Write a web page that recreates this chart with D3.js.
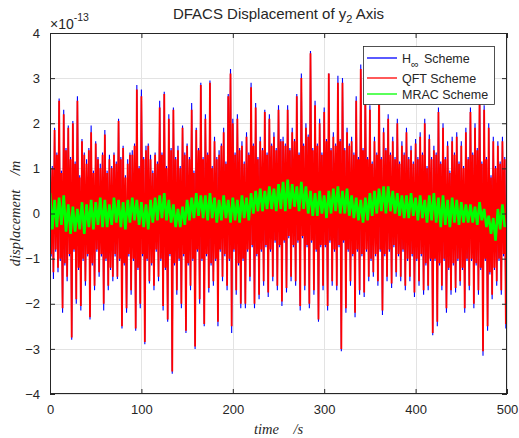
<!DOCTYPE html>
<html>
<head>
<meta charset="utf-8">
<script src="https://cdn.jsdelivr.net/npm/d3@7"></script>
<style>
  body { margin: 0; background: #fff; }
  text { font-family: "Liberation Sans", Arial, sans-serif; fill: #262626; }
</style>
</head>
<body>
<script>
// displacement samples (x 1e-13 m), one every 1.25 s, alternating upper / lower excursions
var hinfScheme = [
  1.3, -0.95, 1.05, -1.45, 1.9, -0.85, 1.35, -1.3,     2.55, -1.05, 0.95, -2.2, 2.3, -1.15, 1.45, -1.5,
  1.95, -0.95, 1.25, -2.8, 2.05, -0.85, 1.15, -2.0,    2.6, -1.25, 0.85, -2.15, 1.65, -1.05, 1.35, -1.6,
  1.2, -0.95, 1.45, -2.35, 1.95, -1.15, 0.95, -1.7,    1.6, -0.85, 1.25, -1.4, 1.1, -0.95, 1.35, -2.15,
  1.85, -1.05, 0.95, -1.7, 1.3, -1.25, 1.05, -1.5,     1.35, -0.95, 1.15, -1.45, 2.1, -1.05, 1.25, -2.55,
  1.5, -1.15, 0.85, -2.2, 1.2, -0.95, 1.35, -1.8,      1.4, -1.05, 1.55, -2.6, 2.85, -1.25, 1.05, -2.1,
  2.75, -0.95, 1.25, -2.9, 1.5, -1.05, 1.55, -1.55,    1.3, -1.15, 0.95, -1.7, 1.35, -0.85, 1.15, -1.5,
  2.5, -1.05, 1.35, -2.15, 2.7, -1.25, 1.05, -2.4,     2.2, -0.95, 1.45, -3.55, 2.35, -1.15, 1.25, -1.8,
  1.5, -1.05, 1.05, -2.1, 1.95, -0.95, 1.35, -2.65,    1.55, -1.15, 1.25, -1.7, 2.45, -1.05, 0.95, -3.0,
  1.9, -0.85, 1.45, -2.0, 2.9, -1.05, 1.25, -2.5,      2.2, -0.95, 1.35, -1.75, 2.95, -1.15, 1.05, -1.6,
  1.7, -1.05, 1.25, -2.5, 1.4, -0.85, 1.55, -1.5,      1.9, -0.95, 1.15, -1.7, 2.65, -1.05, 3.2, -2.65,
  2.1, -0.85, 1.35, -1.8, 2.2, -1.15, 1.45, -2.1,      1.6, -1.05, 1.15, -2.1, 1.8, -0.85, 1.35, -1.5,
  2.9, -0.75, 1.55, -2.1, 2.45, -0.95, 1.25, -1.9,     1.7, -0.85, 1.45, -1.6, 2.3, -0.75, 1.35, -1.85,
  2.2, -0.85, 1.55, -1.5, 1.8, -0.65, 1.45, -1.7,      2.4, -0.75, 1.65, -2.05, 1.7, -0.65, 1.55, -1.75,
  2.4, -0.55, 1.45, -1.5, 1.9, -0.75, 1.65, -1.6,      2.65, -0.65, 1.35, -2.15, 3.1, -0.55, 1.55, -1.7,
  2.0, -0.75, 1.75, -2.1, 3.6, -0.65, 1.45, -1.8,      2.5, -0.85, 1.55, -2.4, 2.1, -0.75, 1.35, -1.7,
  2.35, -0.75, 1.65, -2.15, 3.1, -0.65, 1.45, -1.6,    1.8, -0.85, 1.55, -1.7, 3.05, -0.75, 1.65, -3.05,
  3.0, -0.65, 1.45, -2.2, 1.9, -0.85, 1.55, -1.6,      1.7, -0.95, 1.35, -2.3, 2.6, -0.85, 1.25, -1.8,
  3.3, -0.95, 1.45, -1.85, 2.85, -0.85, 1.25, -1.5,    2.4, -1.05, 1.15, -1.4, 1.7, -0.95, 1.35, -1.6,
  3.0, -0.85, 1.25, -2.25, 1.9, -0.95, 1.45, -1.5,     2.2, -0.85, 1.35, -1.65, 1.7, -0.75, 1.25, -1.4,
  2.1, -0.95, 1.15, -1.5, 1.6, -0.85, 1.35, -1.7,      1.9, -1.05, 1.25, -1.5, 1.5, -0.95, 1.15, -1.85,
  1.65, -1.05, 1.25, -1.6, 1.8, -0.95, 1.35, -1.8,     2.1, -1.15, 1.05, -1.7, 1.75, -1.05, 1.25, -2.7,
  1.5, -1.05, 1.35, -2.5, 2.35, -1.15, 1.15, -1.7,     2.0, -1.05, 1.25, -2.2, 1.6, -1.25, 0.95, -1.8,
  1.7, -1.15, 1.35, -1.75, 1.8, -1.05, 1.15, -1.6,     1.6, -1.25, 1.05, -2.2, 1.9, -1.05, 1.25, -1.7,
  2.35, -1.05, 1.35, -2.1, 2.0, -1.15, 1.45, -1.8,     2.7, -1.25, 1.15, -3.15, 2.4, -1.05, 1.25, -2.6,
  2.0, -1.35, 0.85, -1.9, 1.7, -1.25, 1.05, -1.6,      1.6, -1.05, 1.15, -1.8, 1.7, -0.95, 1.25, -2.55
];
var qftScheme = [
  1.2, -0.9, 1.0, -1.3, 1.85, -0.8, 1.3, -1.2,         2.5, -1.0, 0.9, -2.1, 2.2, -1.1, 1.4, -1.4,
  1.9, -0.9, 1.2, -2.75, 2.0, -0.8, 1.1, -1.9,         2.5, -1.2, 0.8, -2.05, 1.6, -1.0, 1.3, -1.5,
  1.1, -0.9, 1.4, -2.3, 1.8, -1.1, 0.9, -1.6,          1.55, -0.8, 1.2, -1.3, 1.0, -0.9, 1.3, -2.0,
  1.75, -1.0, 0.9, -1.6, 1.2, -1.2, 1.0, -1.4,         1.3, -0.9, 1.1, -1.4, 2.05, -1.0, 1.2, -2.5,
  1.45, -1.1, 0.8, -2.1, 1.1, -0.9, 1.3, -1.7,         1.3, -1.0, 1.5, -2.55, 2.75, -1.2, 1.0, -2.0,
  2.6, -0.9, 1.2, -2.85, 1.4, -1.0, 1.5, -1.5,         1.2, -1.1, 0.9, -1.6, 1.3, -0.8, 1.1, -1.4,
  2.35, -1.0, 1.3, -2.05, 2.65, -1.2, 1.0, -2.35,      2.1, -0.9, 1.4, -3.5, 2.3, -1.1, 1.2, -1.7,
  1.4, -1.0, 1.0, -2.0, 1.9, -0.9, 1.3, -2.6,          1.5, -1.1, 1.2, -1.6, 2.3, -1.0, 0.9, -2.95,
  1.85, -0.8, 1.4, -1.9, 2.85, -1.0, 1.2, -2.45,       2.1, -0.9, 1.3, -1.65, 2.9, -1.1, 1.0, -1.5,
  1.6, -1.0, 1.2, -2.4, 1.3, -0.8, 1.5, -1.4,          1.8, -0.9, 1.1, -1.6, 2.6, -1.0, 3.1, -2.5,
  2.0, -0.8, 1.3, -1.7, 2.1, -1.1, 1.4, -2.0,          1.5, -1.0, 1.1, -2.0, 1.7, -0.8, 1.3, -1.4,
  2.8, -0.7, 1.5, -2.0, 2.35, -0.9, 1.2, -1.8,         1.6, -0.8, 1.4, -1.5, 2.25, -0.7, 1.3, -1.75,
  2.1, -0.8, 1.5, -1.4, 1.7, -0.6, 1.4, -1.6,          2.3, -0.7, 1.6, -1.95, 1.6, -0.6, 1.5, -1.65,
  2.3, -0.5, 1.4, -1.4, 1.8, -0.7, 1.6, -1.5,          2.6, -0.6, 1.3, -2.05, 3.0, -0.5, 1.5, -1.6,
  1.9, -0.7, 1.7, -2.0, 3.55, -0.6, 1.4, -1.7,         2.4, -0.8, 1.5, -2.35, 2.0, -0.7, 1.3, -1.6,
  2.25, -0.7, 1.6, -2.05, 3.1, -0.6, 1.4, -1.5,        1.7, -0.8, 1.5, -1.6, 2.9, -0.7, 1.6, -3.0,
  2.9, -0.6, 1.4, -2.1, 1.8, -0.8, 1.5, -1.5,          1.6, -0.9, 1.3, -2.2, 2.5, -0.8, 1.2, -1.7,
  3.2, -0.9, 1.4, -1.75, 2.75, -0.8, 1.2, -1.4,        2.3, -1.0, 1.1, -1.3, 1.6, -0.9, 1.3, -1.5,
  2.9, -0.8, 1.2, -2.15, 1.8, -0.9, 1.4, -1.4,         2.1, -0.8, 1.3, -1.55, 1.6, -0.7, 1.2, -1.3,
  2.0, -0.9, 1.1, -1.4, 1.5, -0.8, 1.3, -1.6,          1.8, -1.0, 1.2, -1.4, 1.4, -0.9, 1.1, -1.75,
  1.55, -1.0, 1.2, -1.5, 1.7, -0.9, 1.3, -1.7,         2.0, -1.1, 1.0, -1.6, 1.65, -1.0, 1.2, -2.65,
  1.4, -1.0, 1.3, -2.4, 2.25, -1.1, 1.1, -1.6,         1.9, -1.0, 1.2, -2.1, 1.5, -1.2, 0.9, -1.7,
  1.6, -1.1, 1.3, -1.65, 1.7, -1.0, 1.1, -1.5,         1.5, -1.2, 1.0, -2.1, 1.8, -1.0, 1.2, -1.6,
  2.25, -1.0, 1.3, -2.0, 1.9, -1.1, 1.4, -1.7,         2.6, -1.2, 1.1, -3.05, 2.3, -1.0, 1.2, -2.5,
  1.9, -1.3, 0.8, -1.8, 1.6, -1.2, 1.0, -1.5,          1.5, -1.0, 1.1, -1.7, 1.6, -0.9, 1.2, -2.45
];
// MRAC band, one sample every 2.5 s
var mracScheme = [
  0.45, -0.35, 0.3, -0.3,  0.35, -0.25, 0.4, -0.4,  0.2, -0.45, 0.15, -0.4,  0.1, -0.35, 0.25, -0.45,
  0.2, -0.3, 0.3, -0.35,   0.25, -0.25, 0.35, -0.3, 0.3, -0.3, 0.2, -0.25,   0.35, -0.2, 0.3, -0.3,
  0.25, -0.35, 0.3, -0.2,  0.35, -0.15, 0.3, -0.25, 0.25, -0.3, 0.2, -0.35,  0.3, -0.2, 0.35, -0.15,
  0.4, -0.1, 0.45, -0.15,  0.3, -0.2, 0.2, -0.3,    0.1, -0.3, 0.15, -0.25,  0.3, -0.15, 0.35, -0.1,
  0.45, -0.05, 0.4, -0.1,  0.4, -0.15, 0.45, -0.1,  0.35, -0.2, 0.3, -0.15,  0.4, -0.1, 0.3, -0.2,
  0.35, -0.15, 0.3, -0.2,  0.4, -0.1, 0.35, -0.15,  0.45, 0.0, 0.5, 0.05,    0.55, 0.05, 0.5, 0.1,
  0.6, 0.1, 0.55, 0.05,    0.65, 0.1, 0.7, 0.05,    0.75, 0.1, 0.65, 0.15,   0.6, 0.05, 0.7, 0.1,
  0.6, 0.0, 0.5, -0.05,    0.45, -0.05, 0.5, 0.0,   0.4, -0.1, 0.5, 0.0,     0.55, 0.05, 0.6, 0.0,
  0.5, 0.0, 0.55, -0.05,   0.4, -0.1, 0.35, -0.15,  0.3, -0.2, 0.35, -0.15,  0.45, -0.05, 0.5, 0.0,
  0.55, 0.05, 0.6, 0.0,    0.6, 0.05, 0.5, 0.0,     0.45, -0.05, 0.4, -0.1,  0.4, -0.1, 0.45, -0.05,
  0.35, -0.15, 0.4, -0.1,  0.3, -0.2, 0.4, -0.15,   0.45, -0.2, 0.35, -0.3,  0.4, -0.25, 0.3, -0.3,
  0.35, -0.2, 0.3, -0.25,  0.25, -0.2, 0.2, -0.2,   0.2, -0.2, 0.15, -0.25,  0.25, -0.15, 0.1, -0.3,
  -0.05, -0.45, -0.1, -0.6, 0.1, -0.35, 0.2, -0.3
];
var seriesNames = ['H', 'QFT Scheme', 'MRAC Scheme'];
var xTicks = [0, 100, 200, 300, 400, 500];
var yTicks = [-4, -3, -2, -1, 0, 1, 2, 3, 4];

var W = 519, H = 438;
var plotLeft = 50, plotRight = 507, plotTop = 33, plotBottom = 394;

var svg = d3.select('body').append('svg')
  .attr('width', W)
  .attr('height', H);

var x = d3.scaleLinear().domain([0, 500]).range([plotLeft, plotRight]);
var y = d3.scaleLinear().domain([-4, 4]).range([plotBottom, plotTop]);

// grid
var grid = svg.append('g').attr('stroke', '#e3e3e3').attr('stroke-width', 1);
grid.selectAll('line.gx')
    .data(xTicks)
  .enter().append('line')
    .attr('x1', function(d) { return Math.round(x(d)) + 0.5; })
    .attr('x2', function(d) { return Math.round(x(d)) + 0.5; })
    .attr('y1', plotTop)
    .attr('y2', plotBottom);
grid.selectAll('line.gy')
    .data(yTicks)
  .enter().append('line')
    .attr('y1', function(d) { return Math.round(y(d)) + 0.5; })
    .attr('y2', function(d) { return Math.round(y(d)) + 0.5; })
    .attr('x1', plotLeft)
    .attr('x2', plotRight);

svg.append('clipPath').attr('id', 'plotclip')
  .append('rect')
    .attr('x', plotLeft).attr('y', plotTop)
    .attr('width', plotRight - plotLeft).attr('height', plotBottom - plotTop);

function makeLine(step) {
  return d3.line()
    .x(function(d, i) { return x(i * step); })
    .y(function(d) { return y(d); });
}

var series = [
  { values: hinfScheme, step: 1.25, color: '#0000ff', width: 1.1 },
  { values: qftScheme, step: 1.25, color: '#ff0000', width: 1.8 },
  { values: mracScheme, step: 2.5, color: '#00ff00', width: 2.6 }
];

svg.append('g').attr('clip-path', 'url(#plotclip)')
  .selectAll('path')
    .data(series)
  .enter().append('path')
    .attr('d', function(d) { return makeLine(d.step)(d.values); })
    .attr('fill', 'none')
    .attr('stroke', function(d) { return d.color; })
    .attr('stroke-width', function(d) { return d.width; })
    .attr('stroke-linejoin', 'miter')
    .attr('stroke-miterlimit', 2);

// axes with inward ticks on all four sides
function styleAxis(g) {
  g.select('.domain').remove();
  g.selectAll('line').attr('stroke', '#262626');
  g.selectAll('text')
    .style('font-family', '"Liberation Sans", Arial, sans-serif')
    .style('font-size', '13px')
    .attr('fill', '#262626');
}

svg.append('g')
  .attr('transform', 'translate(0,' + plotBottom + ')')
  .call(d3.axisBottom(x).tickValues(xTicks).tickSize(-5).tickPadding(11).tickFormat(d3.format('d')))
  .call(styleAxis);
svg.append('g')
  .attr('transform', 'translate(0,' + plotTop + ')')
  .call(d3.axisTop(x).tickValues(xTicks).tickSize(-5).tickFormat(''))
  .call(styleAxis);
svg.append('g')
  .attr('transform', 'translate(' + plotLeft + ',0)')
  .call(d3.axisLeft(y).tickValues(yTicks).tickSize(-5).tickPadding(10).tickFormat(d3.format('d')))
  .call(styleAxis);
svg.append('g')
  .attr('transform', 'translate(' + plotRight + ',0)')
  .call(d3.axisRight(y).tickValues(yTicks).tickSize(-5).tickFormat(''))
  .call(styleAxis);

svg.append('rect')
  .attr('x', plotLeft + 0.5).attr('y', plotTop + 0.5)
  .attr('width', plotRight - plotLeft - 1).attr('height', plotBottom - plotTop - 1)
  .attr('fill', 'none')
  .attr('stroke', '#262626')
  .attr('stroke-width', 1);

// exponent
var ex = svg.append('text').attr('x', plotLeft).attr('y', 29).style('font-size', '14px');
ex.append('tspan').text('\u00d710');
ex.append('tspan').attr('dy', -8).style('font-size', '10.5px').text('-13');

// title
var title = svg.append('text')
  .attr('x', (plotLeft + plotRight) / 2)
  .attr('y', 19)
  .attr('text-anchor', 'middle')
  .style('font-size', '15px')
  .attr('fill', '#000');
title.append('tspan').text('DFACS Displacement of y');
title.append('tspan').attr('dy', 4).style('font-size', '11px').text('2');
title.append('tspan').attr('dy', -4).text(' Axis');

// axis labels
svg.append('text')
  .attr('x', (plotLeft + plotRight) / 2)
  .attr('y', 434)
  .attr('text-anchor', 'middle')
  .style('font-family', '"Liberation Serif", "Times New Roman", serif')
  .style('font-style', 'italic')
  .style('font-size', '14.5px')
  .attr('xml:space', 'preserve')
  .text('time    /s');

svg.append('text')
  .attr('transform', 'translate(20,' + ((plotTop + plotBottom) / 2) + ') rotate(-90)')
  .attr('text-anchor', 'middle')
  .style('font-family', '"Liberation Serif", "Times New Roman", serif')
  .style('font-style', 'italic')
  .style('font-size', '14.5px')
  .attr('xml:space', 'preserve')
  .text('displacement    /m');

// legend
var legend = svg.append('g');
legend.append('rect')
  .attr('x', 363.5).attr('y', 46.5)
  .attr('width', 131).attr('height', 58)
  .attr('fill', '#fff')
  .attr('stroke', '#262626')
  .attr('stroke-width', 0.8);

var rowY = [58, 78, 94];
var rows = legend.selectAll('g.row')
    .data(series)
  .enter().append('g')
    .attr('class', 'row')
    .attr('transform', function(d, i) { return 'translate(0,' + rowY[i] + ')'; });
rows.append('line')
  .attr('x1', 367).attr('x2', 397)
  .attr('y1', 0).attr('y2', 0)
  .attr('stroke', function(d) { return d.color; })
  .attr('stroke-width', 1.3);
rows.append('text')
  .attr('x', 402)
  .attr('y', 4.5)
  .style('font-size', '12.5px')
  .attr('fill', '#000')
  .each(function(d, i) {
    var t = d3.select(this);
    if (i === 0) {
      t.append('tspan').text(seriesNames[0]);
      t.append('tspan').attr('dy', 5).style('font-size', '11px').text('\u221e');
      t.append('tspan').attr('dy', -5).attr('dx', 5).text('Scheme');
    } else {
      t.text(seriesNames[i]);
    }
  });
</script>
</body>
</html>
